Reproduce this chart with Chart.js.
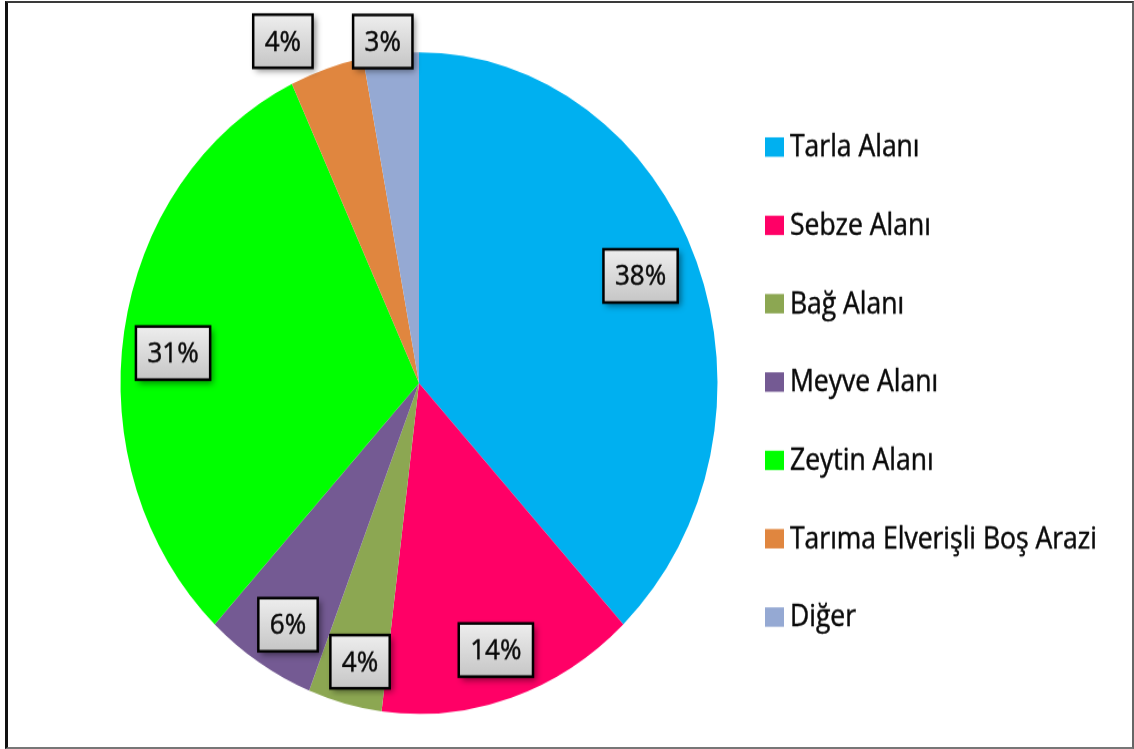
<!DOCTYPE html>
<html lang="tr">
<head>
<meta charset="utf-8">
<title>Tarım Alanlarının Dağılımı</title>
<script src="https://cdn.jsdelivr.net/npm/chart.js@4.4.1/dist/chart.umd.min.js"></script>
<style>
  html, body { margin: 0; padding: 0; background: #ffffff; }
  body { width: 1134px; height: 749px; position: relative; overflow: hidden; }
  #wrap { position: absolute; left: 0; top: 0; width: 1134px; height: 676px;
          transform: scaleY(1.108); transform-origin: 0 0; }
  #chart { display: block; width: 1134px; height: 676px; }
  #frame { position: absolute; left: 5px; top: 1px; width: 1124px; height: 744px;
           border-left: 3px solid #111; border-top: 2px solid #3a3a3a;
           border-right: 2px solid #666; border-bottom: 2px solid #777;
           pointer-events: none; }
</style>
</head>
<body>
<div id="wrap"><canvas id="chart" width="1134" height="676"></canvas></div>
<div id="frame"></div>
<script>
// Land use categories and their shares (%)
const categories = [
  'Tarla Alanı',
  'Sebze Alanı',
  'Bağ Alanı',
  'Meyve Alanı',
  'Zeytin Alanı',
  'Tarıma Elverişli Boş Arazi',
  'Diğer'
];
const shares = [38, 14, 4, 6, 31, 4, 3];
const sliceColors = ['#00B0F0', '#FF0066', '#8CA752', '#745A93', '#00FF00', '#E0863F', '#95A9D3'];

const FONT = '"Open Sans", "Noto Sans", "Liberation Sans", sans-serif';

// Draws text with a hairline outline so it reads a little heavier
function solidText(ctx, text, x, y) {
  ctx.fillText(text, x, y);
  ctx.lineWidth = 0.45;
  ctx.strokeStyle = ctx.fillStyle;
  ctx.strokeText(text, x, y);
}

// Percentage boxes drawn next to / on top of every slice
const sliceLabelPlugin = {
  id: 'sliceLabels',
  afterDatasetsDraw(chart, args, opts) {
    const ctx = chart.ctx;
    const meta = chart.getDatasetMeta(0);
    const values = chart.data.datasets[0].data;
    ctx.save();
    ctx.font = opts.fontSize + 'px ' + FONT;
    meta.data.forEach((arc, i) => {
      const p = opts.placement[i] || { r: 0.83, da: 0 };
      const mid = (arc.startAngle + arc.endAngle) / 2 + p.da * Math.PI / 180;
      const cx = arc.x + Math.cos(mid) * arc.outerRadius * p.r;
      const cy = arc.y + Math.sin(mid) * arc.outerRadius * p.r;
      const text = values[i] + '%';
      const w = ctx.measureText(text).width + 2 * opts.padX;
      const h = opts.boxHeight;
      const x0 = cx - w / 2, y0 = cy - h / 2;

      // soft drop shadow + grey gradient fill
      ctx.save();
      ctx.shadowColor = 'rgba(0,0,0,0.45)';
      ctx.shadowBlur = 6;
      ctx.shadowOffsetX = 3;
      ctx.shadowOffsetY = 3;
      const g = ctx.createLinearGradient(0, y0, 0, y0 + h);
      g.addColorStop(0, '#eeeeee');
      g.addColorStop(1, '#c6c6c6');
      ctx.fillStyle = g;
      ctx.fillRect(x0, y0, w, h);
      ctx.restore();

      ctx.lineWidth = 2.5;
      ctx.strokeStyle = '#000000';
      ctx.strokeRect(x0, y0, w, h);

      ctx.fillStyle = '#0a0a0a';
      ctx.textAlign = 'center';
      ctx.textBaseline = 'middle';
      solidText(ctx, text, cx, cy + 1);
    });
    ctx.restore();
  }
};

// Legend column on the right-hand side
const sideLegendPlugin = {
  id: 'sideLegend',
  afterDraw(chart, args, opts) {
    const ctx = chart.ctx;
    const colors = chart.data.datasets[0].backgroundColor;
    ctx.save();
    ctx.font = opts.fontSize + 'px ' + FONT;
    ctx.textAlign = 'left';
    ctx.textBaseline = 'middle';
    chart.data.labels.forEach((label, i) => {
      const y = opts.top + i * opts.step;
      ctx.fillStyle = colors[i];
      ctx.fillRect(opts.x, y - opts.boxH / 2, opts.boxW, opts.boxH);
      ctx.fillStyle = '#0a0a0a';
      solidText(ctx, label, opts.x + opts.boxW + opts.gap, y + 1);
    });
    ctx.restore();
  }
};

new Chart(document.getElementById('chart'), {
  type: 'pie',
  data: {
    labels: categories,
    datasets: [{
      data: shares,
      backgroundColor: sliceColors,
      borderWidth: 0
    }]
  },
  options: {
    responsive: false,
    devicePixelRatio: 1,
    animation: false,
    layout: { padding: { left: 120.5, right: 416.5, top: 47.2, bottom: 31.6 } },
    plugins: {
      legend: { display: false },
      tooltip: { enabled: false },
      sliceLabels: {
        fontSize: 26,
        padX: 11.5,
        boxHeight: 48,
        placement: [
          { r: 0.81, da: -2.0 },
          { r: 0.847, da: 0.3 },
          { r: 0.865, da: -1.2 },
          { r: 0.852, da: -1.4 },
          { r: 0.829, da: -2.7 },
          { r: 1.13, da: -5.8 },
          { r: 1.04, da: -1.3 }
        ]
      },
      sideLegend: { x: 765, top: 132.7, step: 70.7, boxW: 19, boxH: 17.5, gap: 6, fontSize: 26.5 }
    }
  },
  plugins: [sliceLabelPlugin, sideLegendPlugin]
});
</script>
</body>
</html>
